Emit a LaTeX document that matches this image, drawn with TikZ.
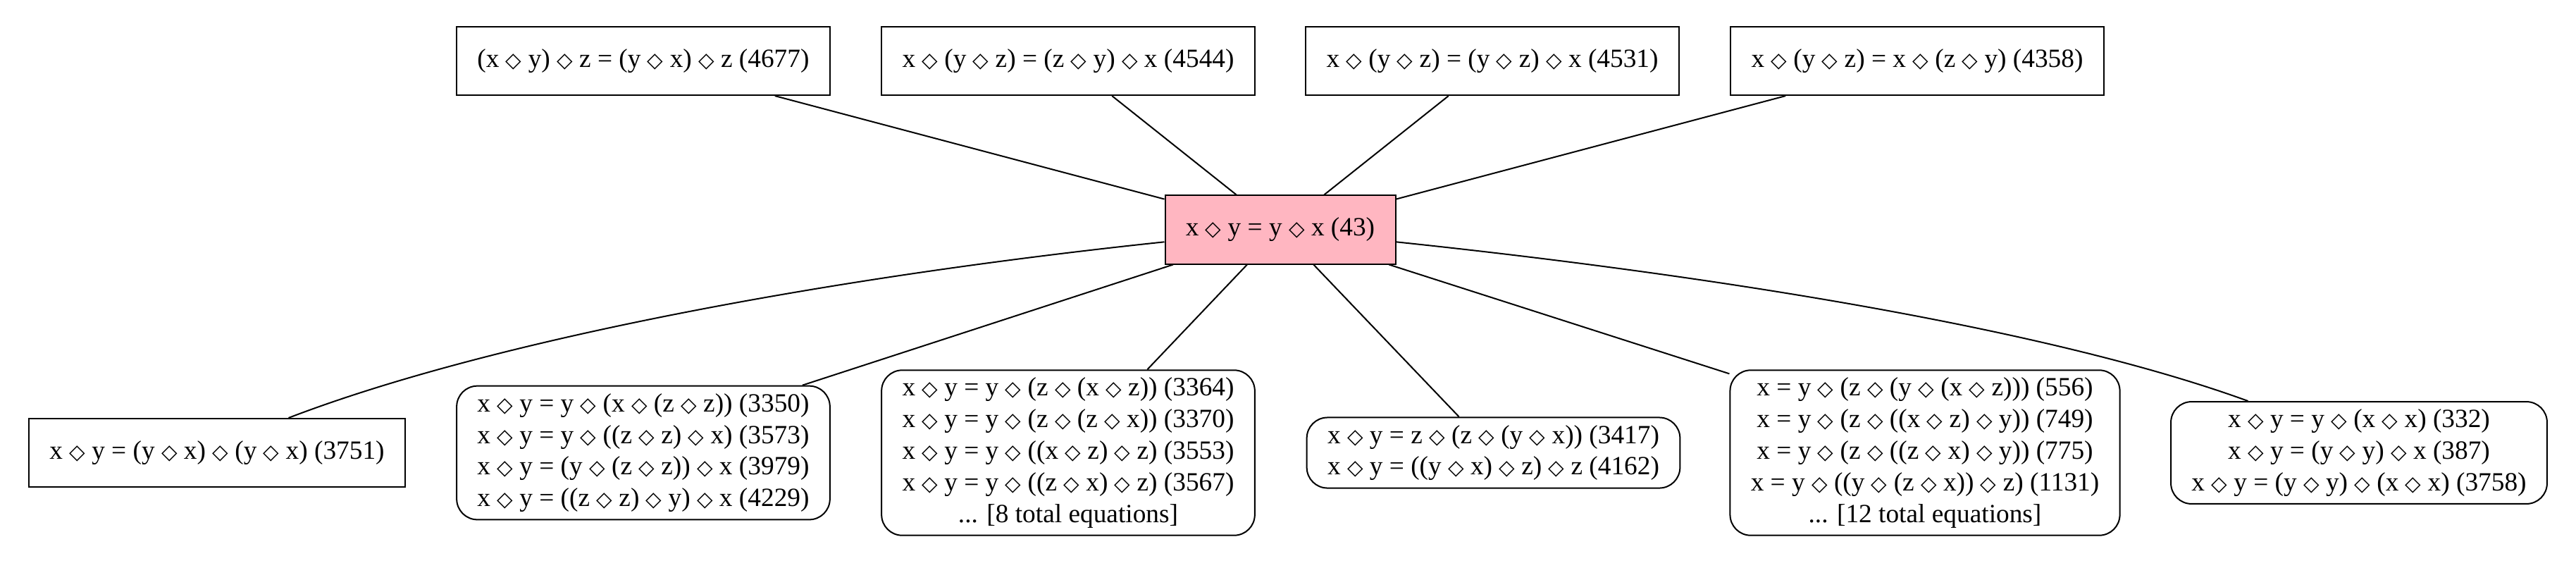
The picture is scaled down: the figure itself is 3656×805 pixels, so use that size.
\documentclass[tikz,border=0pt]{standalone}
\usepackage{fontspec}
\setmainfont{Liberation Serif}
\newfontfamily\symfont{DejaVu Sans}
\usepackage{xcolor}
\usepackage{tikz}
\definecolor{lightpink}{HTML}{FFB6C1}
\newcommand{\dm}{{\symfont\fontsize{11}{11}\selectfont ◇}}

\begin{document}
\begin{tikzpicture}[x=0.375pt, y=0.375pt, line width=0.75pt,
                   eq/.style={draw, rectangle, align=center, inner xsep=11pt, inner ysep=4pt,
                              minimum height=36.4pt, font=\fontsize{14}{16.8}\selectfont},
                   group/.style={eq, rounded corners=11pt}]
  \useasboundingbox (0,0) rectangle (3656,-805);
  % the law in the middle
  \node[eq, fill=lightpink] (e43) at (1817,-326) {x \dm{} y = y \dm{} x (43)};
  % upper row
  \node[eq] (e4677) at (913,-86.5)  {(x \dm{} y) \dm{} z = (y \dm{} x) \dm{} z (4677)};
  \node[eq] (e4544) at (1516,-86.5) {x \dm{} (y \dm{} z) = (z \dm{} y) \dm{} x (4544)};
  \node[eq] (e4531) at (2118,-86.5) {x \dm{} (y \dm{} z) = (y \dm{} z) \dm{} x (4531)};
  \node[eq] (e4358) at (2721,-86.5) {x \dm{} (y \dm{} z) = x \dm{} (z \dm{} y) (4358)};
  % lower row
  \node[eq] (e3751) at (308,-642.5) {x \dm{} y = (y \dm{} x) \dm{} (y \dm{} x) (3751)};
  \node[group] (g3350) at (913,-642.5) {x \dm{} y = y \dm{} (x \dm{} (z \dm{} z)) (3350)\\
                                        x \dm{} y = y \dm{} ((z \dm{} z) \dm{} x) (3573)\\
                                        x \dm{} y = (y \dm{} (z \dm{} z)) \dm{} x (3979)\\
                                        x \dm{} y = ((z \dm{} z) \dm{} y) \dm{} x (4229)};
  \node[group] (g3364) at (1516,-642.5) {x \dm{} y = y \dm{} (z \dm{} (x \dm{} z)) (3364)\\
                                         x \dm{} y = y \dm{} (z \dm{} (z \dm{} x)) (3370)\\
                                         x \dm{} y = y \dm{} ((x \dm{} z) \dm{} z) (3553)\\
                                         x \dm{} y = y \dm{} ((z \dm{} x) \dm{} z) (3567)\\
                                         ... [8 total equations]};
  \node[group] (g3417) at (2119.5,-642.5) {x \dm{} y = z \dm{} (z \dm{} (y \dm{} x)) (3417)\\
                                           x \dm{} y = ((y \dm{} x) \dm{} z) \dm{} z (4162)};
  \node[group] (g556) at (2732,-642.5) {x = y \dm{} (z \dm{} (y \dm{} (x \dm{} z))) (556)\\
                                        x = y \dm{} (z \dm{} ((x \dm{} z) \dm{} y)) (749)\\
                                        x = y \dm{} (z \dm{} ((z \dm{} x) \dm{} y)) (775)\\
                                        x = y \dm{} ((y \dm{} (z \dm{} x)) \dm{} z) (1131)\\
                                        ... [12 total equations]};
  \node[group] (g332) at (3348,-642.5) {x \dm{} y = y \dm{} (x \dm{} x) (332)\\
                                        x \dm{} y = (y \dm{} y) \dm{} x (387)\\
                                        x \dm{} y = (y \dm{} y) \dm{} (x \dm{} x) (3758)};
  % edges
  \draw (e43) -- (e4677);
  \draw (e43) -- (e4544);
  \draw (e43) -- (e4531);
  \draw (e43) -- (e4358);
  \draw (e43.186) to[out=186, in=21, in looseness=0.6] (e3751.26);
  \draw (e43) -- (g3350.23);
  \draw (e43) -- (g3364);
  \draw (e43) -- (g3417);
  \draw (e43) -- (g556.158);
  \draw (e43.-6) to[out=-6, in=160, in looseness=0.6] (g332.155);
\end{tikzpicture}
\end{document}
